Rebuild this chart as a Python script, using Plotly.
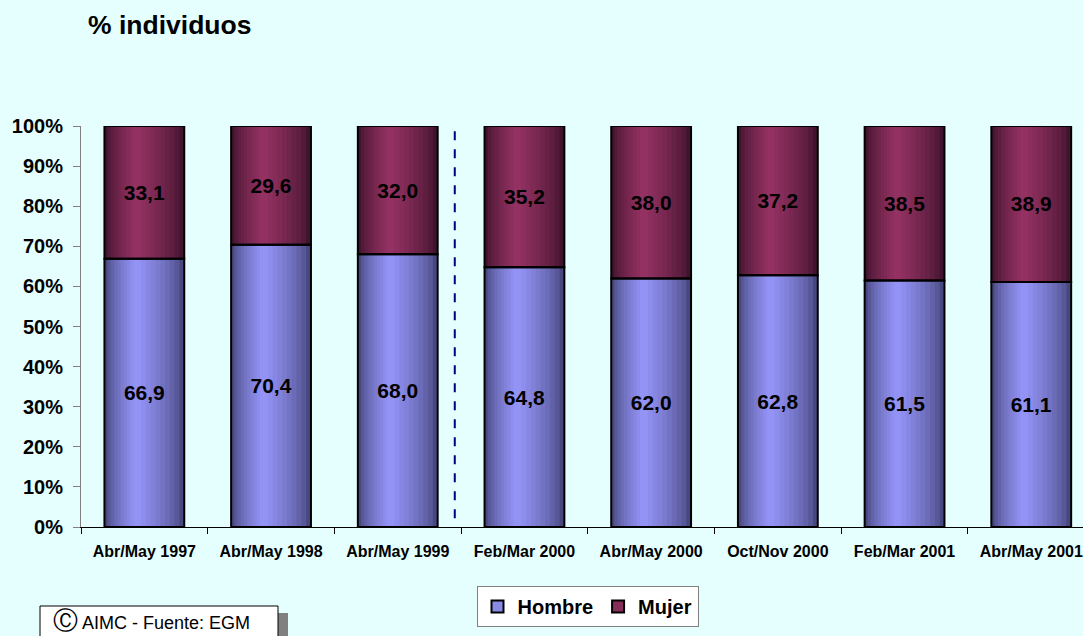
import plotly.graph_objects as go

# ---------------- data ----------------
categories = ["Abr/May 1997", "Abr/May 1998", "Abr/May 1999", "Feb/Mar 2000",
              "Abr/May 2000", "Oct/Nov 2000", "Feb/Mar 2001", "Abr/May 2001"]
hombre = [66.9, 70.4, 68.0, 64.8, 62.0, 62.8, 61.5, 61.1]
mujer = [33.1, 29.6, 32.0, 35.2, 38.0, 37.2, 38.5, 38.9]
series_names = ["Hombre", "Mujer"]
ytick_vals = [0, 10, 20, 30, 40, 50, 60, 70, 80, 90, 100]
ytick_text = ["0%", "10%", "20%", "30%", "40%", "50%", "60%", "70%", "80%", "90%", "100%"]

# ---------------- styling ----------------
W, H = 1083, 636
ML, MR, MT, MB = 81, 0, 126, 109
BG = "#E5FFFF"
FONT = "Arial, Liberation Sans, sans-serif"
LIGHT = {"Hombre": (153, 153, 255), "Mujer": (153, 51, 102)}
DARK = {"Hombre": (72, 72, 128), "Mujer": (64, 20, 44)}
BAR_W = 0.63
N_LAYERS = 10
PEAK = 0.4  # relative position of the lightest stripe


def mix(c1, c2, t):
    return "rgb(%d,%d,%d)" % tuple(round(a + (b - a) * t) for a, b in zip(c1, c2))


def px_x(px):
    return (px - ML) / (W - ML - MR)


def px_y(py):
    return (H - MB - py) / (H - MT - MB)


fig = go.Figure()

segments = [("Hombre", hombre, [0] * len(hombre)),
            ("Mujer", mujer, hombre)]

# gradient layers (cylinder-like shading)
for name, vals, base in segments:
    for k in range(N_LAYERS):
        t = k / N_LAYERS
        left = -BAR_W / 2 + t * BAR_W * PEAK
        right = BAR_W / 2 - t * BAR_W * (1 - PEAK)
        fig.add_trace(go.Bar(
            x=categories, y=vals, base=base,
            width=right - left, offset=left,
            marker=dict(color=mix(DARK[name], LIGHT[name], t ** 0.7), line=dict(width=0)),
            showlegend=False, hoverinfo="skip"))

# outlines + labels
for name, vals, base in segments:
    fig.add_trace(go.Bar(
        x=categories, y=vals, base=base, width=BAR_W, offset=-BAR_W / 2,
        marker=dict(color="rgba(0,0,0,0)", line=dict(color="black", width=2)),
        text=[f"{v:.1f}".replace(".", ",") for v in vals],
        textposition="inside", insidetextanchor="middle",
        textfont=dict(color="black", size=21, family=FONT, weight="bold"),
        showlegend=False, name=name))

# legend entries
for name in series_names:
    fig.add_trace(go.Bar(
        x=[None], y=[None], name=name,
        marker=dict(color=mix(DARK[name], LIGHT[name], 0.8), line=dict(color="black", width=2))))

fig.update_layout(
    width=W, height=H,
    margin=dict(l=ML, r=MR, t=MT, b=MB, pad=0),
    paper_bgcolor=BG, plot_bgcolor=BG,
    barmode="overlay",
    font=dict(family=FONT, color="black"),
    showlegend=True,
    legend=dict(orientation="h", x=px_x(587.5), xanchor="center",
                y=px_y(606.5), yanchor="middle",
                bgcolor="white", bordercolor="#808080", borderwidth=1,
                font=dict(size=20, family=FONT, weight="bold"),
                itemwidth=30, tracegroupgap=0),
    xaxis=dict(
        type="category", range=[-0.5, -0.5 + (W - ML - MR) / 126.7],
        tickson="boundaries", ticks="outside", ticklen=6, tickcolor="black",
        showline=True, linecolor="black", linewidth=1,
        showgrid=False, zeroline=False, ticklabelstandoff=10,
        tickfont=dict(size=16, family=FONT, weight="bold")),
    yaxis=dict(
        range=[0, 100], tickmode="array", tickvals=ytick_vals, ticktext=ytick_text,
        ticks="outside", ticklen=7, tickcolor="#808080",
        showline=True, linecolor="#808080", linewidth=1,
        showgrid=False, zeroline=False, ticklabelstandoff=6,
        tickfont=dict(size=20, family=FONT, weight="bold")),
)

# vertical dashed separator
fig.add_shape(type="line", xref="x", yref="y", x0=2.45, x1=2.45, y0=2.2, y1=101,
              line=dict(color="#000080", width=2, dash="dash"))

# title
fig.add_annotation(xref="paper", yref="paper", x=px_x(86), y=px_y(25),
                   xanchor="left", yanchor="middle", showarrow=False,
                   text="% individuos",
                   font=dict(size=26.5, family=FONT, weight="bold", color="black"))

# copyright box
fig.add_shape(type="rect", xref="paper", yref="paper",
              x0=px_x(48), x1=px_x(288), y0=px_y(613), y1=px_y(650),
              fillcolor="#808080", line=dict(width=0))
fig.add_shape(type="rect", xref="paper", yref="paper",
              x0=px_x(40), x1=px_x(278), y0=px_y(606), y1=px_y(650),
              fillcolor="white", line=dict(color="black", width=1))
fig.add_annotation(xref="paper", yref="paper", x=px_x(51), y=px_y(620),
                   xanchor="left", yanchor="middle", showarrow=False,
                   text="<span style='font-size:25px'>Ⓒ</span> AIMC - Fuente: EGM",
                   font=dict(size=18, family=FONT, color="black"))

fig.write_html("out.html",
               config={"displayModeBar": False},
               post_script="document.body.style.margin='0';document.body.style.padding='0';"
                           "document.body.style.overflow='hidden';"
                           "document.body.style.background='" + BG + "';")
